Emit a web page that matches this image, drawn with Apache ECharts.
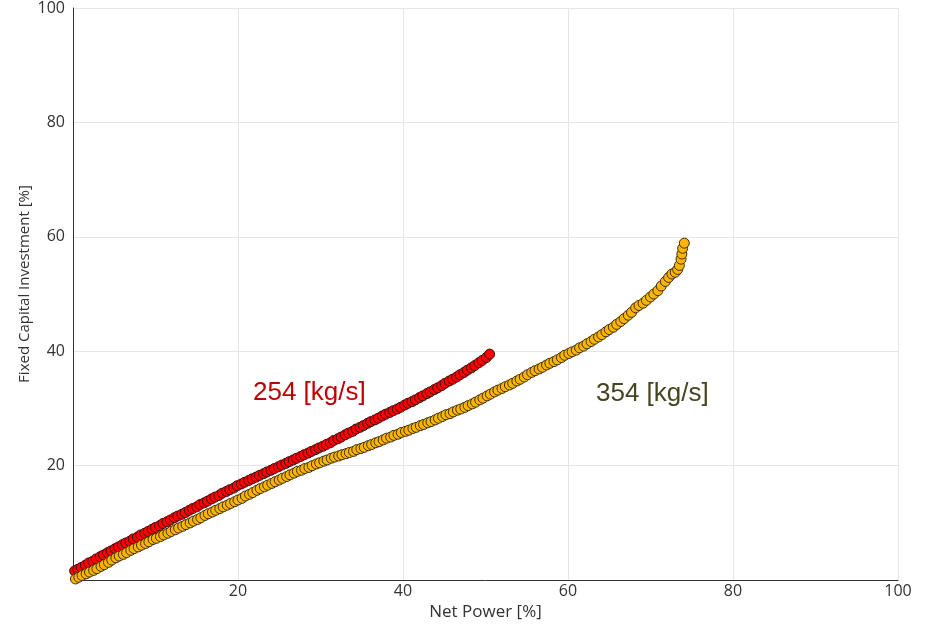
<!DOCTYPE html>
<html>
<head>
<meta charset="utf-8">
<style>
  html, body { margin: 0; padding: 0; background: #ffffff; }
  #chart { width: 936px; height: 626px; }
</style>
<script src="https://cdn.jsdelivr.net/npm/echarts@6/dist/echarts.min.js"></script>
</head>
<body>
<div id="chart"></div>
<script>
// Net power [%] and fixed capital investment [%] for the 254 kg/s case
const power254 = [0.2,0.6,1.0,1.5,1.9,2.4,2.8,3.3,3.7,4.2,4.6,5.1,5.5,6.0,6.4,6.9,7.3,7.8,8.2,8.7,9.1,9.6,10.0,10.5,10.9,11.4,11.8,12.3,12.7,13.2,13.6,14.1,14.5,15.0,15.4,15.9,16.3,16.8,17.2,17.7,18.1,18.6,19.0,19.5,19.9,20.4,20.8,21.3,21.7,22.2,22.6,23.1,23.5,24.0,24.4,24.9,25.3,25.8,26.2,26.7,27.1,27.6,28.0,28.5,28.9,29.4,29.8,30.3,30.7,31.2,31.6,32.1,32.5,33.0,33.4,33.9,34.3,34.8,35.2,35.7,36.1,36.6,37.0,37.5,37.9,38.4,38.8,39.3,39.7,40.2,40.6,41.1,41.5,42.0,42.4,42.9,43.3,43.8,44.2,44.7,45.1,45.6,46.0,46.5,46.9,47.4,47.8,48.3,48.7,49.2,49.6,50.1,50.5];
const fci254 = [1.6,1.9,2.2,2.6,3.0,3.3,3.7,4.1,4.4,4.8,5.1,5.5,5.8,6.2,6.5,6.8,7.2,7.5,7.9,8.2,8.5,8.9,9.2,9.5,9.9,10.2,10.5,10.9,11.2,11.5,11.8,12.2,12.5,12.8,13.2,13.5,13.8,14.2,14.5,14.8,15.2,15.5,15.8,16.1,16.5,16.8,17.1,17.4,17.7,18.0,18.3,18.6,18.9,19.2,19.5,19.8,20.1,20.4,20.7,21.0,21.3,21.6,21.9,22.2,22.5,22.8,23.1,23.4,23.7,24.0,24.4,24.7,25.0,25.4,25.7,26.0,26.4,26.7,27.0,27.4,27.7,28.0,28.3,28.7,29.0,29.3,29.6,29.9,30.2,30.6,30.9,31.2,31.5,31.9,32.2,32.6,32.9,33.3,33.6,34.0,34.4,34.8,35.1,35.5,35.9,36.3,36.7,37.1,37.5,38.0,38.4,38.9,39.5];

// Net power [%] and fixed capital investment [%] for the 354 kg/s case
const power354 = [0.3,0.7,1.1,1.6,2.0,2.5,2.9,3.4,3.8,4.3,4.7,5.2,5.6,6.1,6.5,7.0,7.4,7.9,8.3,8.8,9.2,9.7,10.1,10.6,11.0,11.5,11.9,12.4,12.8,13.3,13.7,14.2,14.6,15.1,15.5,16.0,16.4,16.9,17.3,17.8,18.2,18.7,19.1,19.6,20.0,20.5,20.9,21.4,21.8,22.3,22.7,23.2,23.6,24.1,24.5,25.0,25.4,25.9,26.3,26.8,27.2,27.7,28.1,28.6,29.0,29.5,29.9,30.4,30.8,31.3,31.7,32.2,32.6,33.1,33.5,34.0,34.4,34.9,35.3,35.8,36.2,36.7,37.1,37.6,38.0,38.5,38.9,39.4,39.8,40.3,40.7,41.2,41.6,42.1,42.5,43.0,43.4,43.9,44.3,44.8,45.2,45.7,46.1,46.6,47.0,47.5,47.9,48.4,48.8,49.3,49.7,50.2,50.6,51.1,51.5,52.0,52.4,52.9,53.3,53.8,54.2,54.7,55.1,55.6,56.0,56.5,56.9,57.4,57.8,58.3,58.7,59.2,59.6,60.1,60.5,61.0,61.4,61.9,62.3,62.8,63.2,63.7,64.1,64.6,65.0,65.5,65.9,66.4,66.8,67.3,67.7,68.2,68.6,69.1,69.5,70.0,70.4,70.9,71.3,71.8,72.2,72.6,73.0,73.3,73.5,73.7,73.8,73.9,74.1];
const fci354 = [0.2,0.5,0.8,1.1,1.4,1.7,2.0,2.4,2.7,3.1,3.5,3.9,4.2,4.5,4.8,5.2,5.5,5.8,6.1,6.4,6.7,7.1,7.3,7.6,7.9,8.2,8.5,8.8,9.1,9.4,9.7,10.0,10.3,10.6,10.9,11.3,11.6,11.9,12.2,12.5,12.8,13.1,13.4,13.7,14.0,14.3,14.7,15.0,15.3,15.7,16.0,16.3,16.6,16.9,17.2,17.5,17.8,18.1,18.4,18.7,19.0,19.2,19.5,19.7,20.0,20.3,20.5,20.8,21.0,21.3,21.5,21.7,21.9,22.1,22.3,22.5,22.8,23.0,23.2,23.5,23.7,24.0,24.2,24.5,24.8,25.0,25.3,25.5,25.8,26.0,26.2,26.5,26.7,27.0,27.2,27.5,27.7,28.0,28.3,28.6,28.9,29.1,29.4,29.7,29.9,30.2,30.5,30.8,31.1,31.5,31.8,32.2,32.5,32.9,33.2,33.5,33.8,34.1,34.4,34.8,35.1,35.5,35.9,36.3,36.6,36.9,37.2,37.6,37.9,38.2,38.5,38.9,39.3,39.6,39.9,40.2,40.6,40.9,41.3,41.7,42.1,42.5,42.9,43.4,43.8,44.2,44.7,45.2,45.7,46.3,46.8,47.6,48.0,48.4,48.9,49.5,50.0,50.6,51.4,52.2,52.9,53.5,53.8,54.3,55.0,56.1,57.0,58.0,58.9];

// Axis tick values
const xTicks = [0, 20, 40, 60, 80, 100];
const yTicks = [0, 20, 40, 60, 80, 100];

const pairs = (xs, ys) => xs.map((x, i) => [x, ys[i]]);

const chart = echarts.init(document.getElementById('chart'), null, { renderer: 'canvas' });

const axisFont = '"Open Sans", "Noto Sans", sans-serif';

chart.setOption({
  animation: false,
  backgroundColor: '#ffffff',
  grid: { left: 73, right: 38, top: 6, bottom: 44, containLabel: false },
  xAxis: {
    type: 'value',
    min: xTicks[0],
    max: xTicks[xTicks.length - 1],
    interval: xTicks[1] - xTicks[0],
    name: 'Net Power [%]',
    nameLocation: 'middle',
    nameGap: 21,
    nameTextStyle: { fontFamily: axisFont, fontSize: 17, color: '#333333' },
    axisLine: { show: true, onZero: false, lineStyle: { color: '#333333', width: 1 } },
    axisTick: { show: false },
    axisLabel: { showMinLabel: false, margin: 3, fontFamily: axisFont, fontSize: 16, color: '#333333' },
    splitLine: { show: true, lineStyle: { color: '#e6e6e6', width: 1 } }
  },
  yAxis: {
    type: 'value',
    min: yTicks[0],
    max: yTicks[yTicks.length - 1],
    interval: yTicks[1] - yTicks[0],
    axisLine: { show: true, onZero: false, lineStyle: { color: '#333333', width: 1 } },
    axisTick: { show: false },
    axisLabel: {
      showMinLabel: false, margin: 8, fontFamily: axisFont, fontSize: 16, color: '#333333',
      padding: [5, 0, 0, 0]
    },
    splitLine: { show: true, lineStyle: { color: '#e6e6e6', width: 1 } }
  },
  series: [
    {
      name: '254 [kg/s]',
      type: 'scatter',
      symbol: 'circle',
      symbolSize: 10,
      data: pairs(power254, fci254),
      itemStyle: { color: '#ff0000', borderColor: '#3a1010', borderWidth: 1, opacity: 1 }
    },
    {
      name: '354 [kg/s]',
      type: 'scatter',
      symbol: 'circle',
      symbolSize: 10,
      data: pairs(power354, fci354),
      itemStyle: { color: '#ffb400', borderColor: '#3a3010', borderWidth: 1, opacity: 1 }
    }
  ],
  graphic: [
    {
      // vertical y-axis title
      type: 'text',
      x: 25, y: 284,
      rotation: Math.PI / 2,
      style: {
        text: 'Fixed Capital Investment [%]',
        fill: '#333333',
        font: '15px "Open Sans", "Noto Sans", sans-serif',
        textAlign: 'center',
        textVerticalAlign: 'middle'
      }
    },
    {
      type: 'text',
      x: 253, y: 393,
      style: {
        text: '254 [kg/s]',
        fill: '#c00000',
        font: '26px "Liberation Sans", Arial, sans-serif',
        textAlign: 'left',
        textVerticalAlign: 'middle'
      }
    },
    {
      type: 'text',
      x: 596, y: 394,
      style: {
        text: '354 [kg/s]',
        fill: '#45451f',
        font: '26px "Liberation Sans", Arial, sans-serif',
        textAlign: 'left',
        textVerticalAlign: 'middle'
      }
    }
  ]
});
</script>
</body>
</html>
